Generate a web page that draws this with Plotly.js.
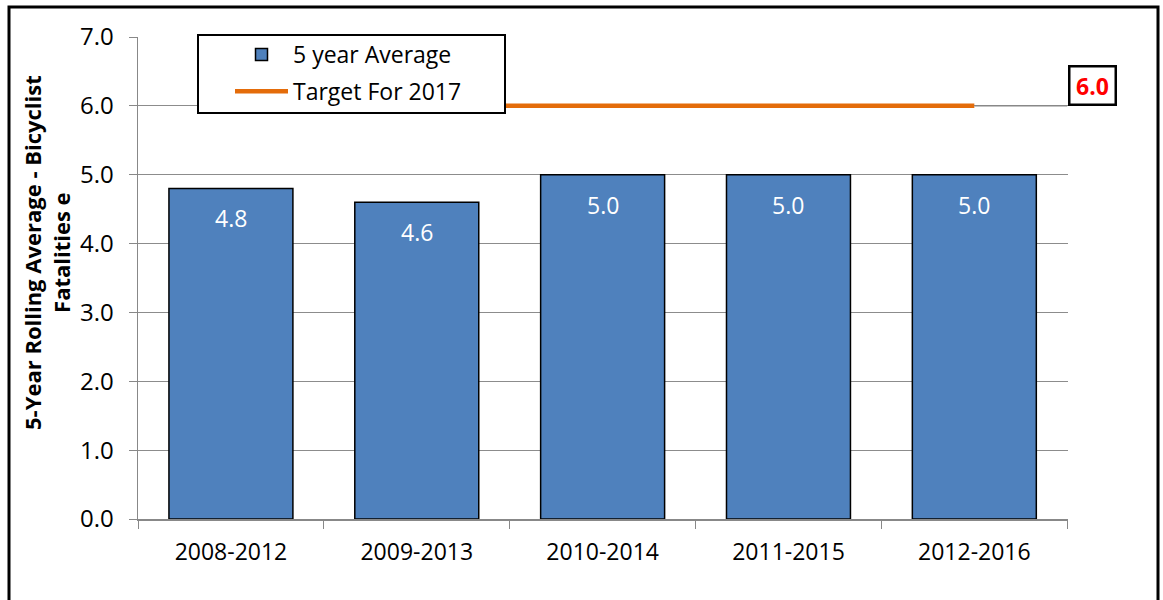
<!DOCTYPE html>
<html><head><meta charset="utf-8">
<script src="https://cdn.plot.ly/plotly-3.0.1.min.js"></script>
<style>html,body{margin:0;padding:0;background:#fff}#chart{width:1163px;height:600px}</style>
</head><body><div id="chart"></div>
<script>
const categories = ["2008-2012","2009-2013","2010-2014","2011-2015","2012-2016"];
const avgValues = [4.8, 4.6, 5.0, 5.0, 5.0];
const targetValues = [6.0, 6.0, 6.0, 6.0, 6.0];
const targetLabel = "6.0";
const yTicks = [0,1,2,3,4,5,6,7];
const yTickLabels = ["0.0","1.0","2.0","3.0","4.0","5.0","6.0","7.0"];
const yTitle = "5-Year Rolling Average - Bicyclist<br>Fatalities e";

const FONT = "Open Sans, sans-serif";
const W = 1163, H = 600;
const mL = 138, mR = 95, mT = 37, mB = 81;
const pw = W - mL - mR, ph = H - mT - mB;
const px = v => (v - mL) / pw;
const py = v => (H - mB - v) / ph;

const traces = [
  {type:"bar", name:"5 year Average", x:categories, y:avgValues, legendgroup:"a",
   marker:{color:"#4F81BD", line:{color:"#000", width:1.5}},
   textposition:"none", hoverinfo:"skip"},
  {type:"scatter", mode:"lines", name:"Target For 2017", x:categories, y:targetValues, legendgroup:"b",
   line:{color:"#E46C0A", width:4.5}, hoverinfo:"skip"}
];

const barLabels = avgValues.map((v,i)=>({
  xref:"x", yref:"y", x:categories[i], y:v, yanchor:"middle", yshift:-30,
  text:v.toFixed(1), showarrow:false, font:{color:"#fff", size:23, family:FONT}
}));

const layout = {
  width:W, height:H, margin:{l:mL, r:mR, t:mT, b:mB},
  paper_bgcolor:"#fff", plot_bgcolor:"#fff",
  font:{family:FONT, color:"#000"},
  bargap:0.333, showlegend:true,
  legend:{x:px(230), y:py(33), xanchor:"left", yanchor:"top", bgcolor:"rgba(0,0,0,0)",
    borderwidth:0, font:{size:23, family:FONT}, traceorder:"grouped", tracegroupgap:4,
    itemwidth:53},
  xaxis:{type:"category", tickson:"boundaries", ticks:"outside", ticklen:8, tickcolor:"#888",
    showline:true, linecolor:"#888", linewidth:1.5, showgrid:false,
    tickfont:{size:23, family:FONT}, ticklabelstandoff:12, fixedrange:true},
  yaxis:{range:[0,7], tickvals:yTicks, ticktext:yTickLabels, ticks:"outside", ticklen:8,
    tickcolor:"#888", showline:true, linecolor:"#888", linewidth:1.5,
    showgrid:true, gridcolor:"#8c8c8c", gridwidth:1.2, zeroline:false,
    tickfont:{size:24, family:FONT}, ticklabelstandoff:10,
    fixedrange:true},
  shapes:[
    {type:"line", xref:"x", yref:"y", x0:categories.length-1, x1:categories.length-0.5, y0:targetValues[4], y1:targetValues[4], line:{color:"#888", width:1.5}},
    {type:"rect", xref:"paper", yref:"paper", x0:px(198), x1:px(505), y0:py(35), y1:py(113),
     fillcolor:"#fff", line:{color:"#000", width:2}, layer:"above"},
    {type:"rect", xref:"paper", yref:"paper", x0:px(9), x1:px(1158), y0:py(7), y1:py(620), line:{color:"#000", width:3}, layer:"above"}
  ],
  annotations:[
    {xref:"paper", yref:"y", x:1.0, y:targetValues[4], xanchor:"left", yanchor:"bottom",
     text:"<b>"+targetLabel+"</b>", showarrow:false, font:{color:"#FF0000", size:23, family:FONT},
     bgcolor:"#fff", bordercolor:"#000", borderwidth:2.5, width:42, height:34},
    {xref:"paper", yref:"paper", x:px(47), y:py(253), xanchor:"center", yanchor:"middle",
     textangle:-90, text:"<b>"+yTitle+"</b>", showarrow:false, font:{size:22, family:FONT, color:"#000"}}
  ].concat(barLabels)
};
Plotly.newPlot("chart", traces, layout, {displayModeBar:false, staticPlot:true});
</script></body></html>
